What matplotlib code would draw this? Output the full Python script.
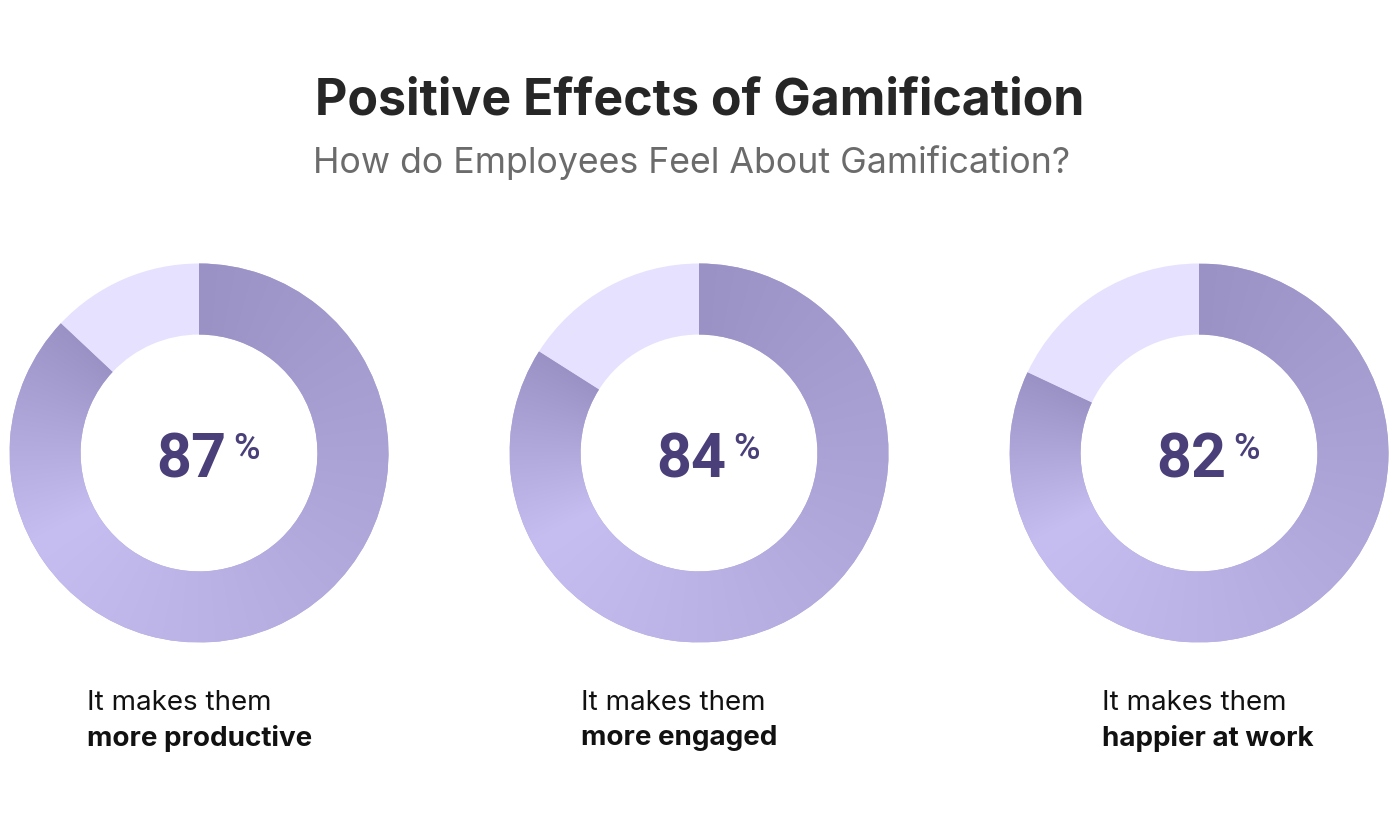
import numpy as np
import matplotlib
matplotlib.use("Agg")
import matplotlib.pyplot as plt
from matplotlib.colors import to_rgb

# data
values = [87, 84, 82]
line1 = ["It makes them", "It makes them", "It makes them"]
line2 = ["more productive", "more engaged", "happier at work"]
title = "Positive Effects of Gamification"
subtitle = "How do Employees Feel About Gamification?"

W, H = 1400, 813
dark = np.array(to_rgb("#9a92c5"))
light = np.array(to_rgb("#c6bef1"))
rest_color = "#e6e1fe"
num_color = "#4a3f78"

centers = [199, 699, 1199]
label_x = [87, 581, 1102]
r_out = 189.5
ring = 0.375
seam = 241.0  # angle where the gradient restarts (deg, clockwise from top)


def fx(px):
    return px / W


def fy(py):
    return 1 - py / H


fig = plt.figure(figsize=(W / 100, H / 100), dpi=100)
fig.patch.set_facecolor("white")

# grid for gradient fill
g = np.linspace(-1, 1, 600)
gx, gy = np.meshgrid(g, g)
theta = np.degrees(np.arctan2(gx, gy)) % 360

for i, v in enumerate(values):
    cx = centers[i]
    ax = fig.add_axes([fx(cx - r_out), fy(453 + r_out), 2 * r_out / W, 2 * r_out / H])
    wedges, _ = ax.pie([v, 100 - v], radius=1, startangle=90, counterclock=False,
                       colors=["#b0a7dc", rest_color],
                       wedgeprops=dict(width=ring, linewidth=0))
    ax.set_xlim(-1, 1)
    ax.set_ylim(-1, 1)
    ax.set_aspect("equal")
    ax.axis("off")

    # gradient: dark -> light up to the seam, then light -> dark to the end of the arc
    end = 360 * v / 100
    t = np.where(theta < seam, theta / seam, 1 - (theta - seam) / (end - seam))
    t = np.clip(t, 0, 1)
    img = dark[None, None, :] * (1 - t[..., None]) + light[None, None, :] * t[..., None]
    im = ax.imshow(img, extent=(-1, 1, -1, 1), origin="lower", zorder=3,
                   interpolation="bilinear")
    im.set_clip_path(wedges[0])

    # centre value
    fig.text(fx(cx + 27), fy(477), str(v), ha="right", va="baseline",
             fontsize=44, fontweight="bold", color=num_color, family="Roboto")
    fig.text(fx(cx + 34), fy(432), "%", ha="left", va="top",
             fontsize=26, fontweight="medium", color=num_color, family="Roboto")

    # caption under each ring
    fig.text(fx(label_x[i]), fy(703), line1[i], ha="left", va="center",
             fontsize=20, color="#111111", family="Inter")
    fig.text(fx(label_x[i]), fy(738), line2[i], ha="left", va="center",
             fontsize=20, fontweight="bold", color="#111111", family="Inter")

fig.text(0.5, fy(101), title, ha="center", va="center",
         fontsize=36, fontweight="bold", color="#262626", family="Inter")
fig.text(fx(692), fy(163), subtitle, ha="center", va="center",
         fontsize=25.7, color="#6b6b6b", family="Inter")

fig.savefig("out.png", dpi=100, facecolor="white")
